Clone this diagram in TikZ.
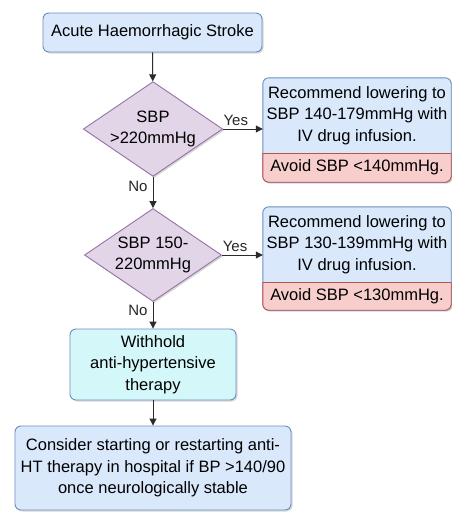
\documentclass[tikz,border=0pt]{standalone}
\usepackage{fontspec}
\setmainfont{Liberation Sans}
\usetikzlibrary{shapes.geometric,arrows.meta,shadows,backgrounds}
\definecolor{bfill}{HTML}{DAE8FC}
\definecolor{bline}{HTML}{6C8EBF}
\definecolor{pfill}{HTML}{E1D5E7}
\definecolor{pline}{HTML}{9673A6}
\definecolor{rfill}{HTML}{F8CECC}
\definecolor{rline}{HTML}{B85450}
\definecolor{cfill}{HTML}{D4F7F9}
\definecolor{arrcol}{HTML}{2B2B2B}
\begin{document}
\begin{tikzpicture}[x=1pt,y=-1pt,
  font=\fontsize{16.5}{21.5}\selectfont,
  shad/.style={drop shadow={shadow xshift=1.5pt,shadow yshift=-1.5pt,opacity=0.35,fill=black!45}},
  box/.style={draw=bline, fill=bfill, rounded corners=6pt, line width=0.9pt, align=center, inner sep=0pt, shad},
  dia/.style={diamond, draw=pline, fill=pfill, aspect=1.47, minimum width=137pt, minimum height=93pt, inner sep=0pt, align=center, line width=0.9pt, shad},
  plain/.style={align=center, inner sep=0pt, minimum width=188pt},
  arr/.style={-{Triangle[length=7pt,width=7pt]}, line width=1pt, draw=arrcol},
  lbl/.style={font=\fontsize{15}{18}\selectfont, inner sep=1pt, text=black!85}
]
\useasboundingbox (0,0) rectangle (452,512);

\node[box, minimum width=219pt, minimum height=39pt] (start) at (152.5,32.5) {Acute Haemorrhagic Stroke};
\node[dia] (d1) at (153,129) {SBP\\>220mmHg};
\node[dia] (d2) at (153,255) {SBP 150-\\220mmHg};

\node[plain, minimum height=75pt] (r1) at (357,115.5) {Recommend lowering to\\SBP 140-179mmHg with\\IV drug infusion.};
\node[plain, minimum height=29pt] (a1) at (357,167.5) {Avoid SBP <140mmHg.};
\node[plain, minimum height=75pt] (r2) at (357,244.5) {Recommend lowering to\\SBP 130-139mmHg with\\IV drug infusion.};
\node[plain, minimum height=28pt] (a2) at (357,296) {Avoid SBP <130mmHg.};

\node[box, fill=cfill, minimum width=166pt, minimum height=71pt] (wh) at (153,364.5) {Withhold\\anti-hypertensive\\therapy};
\node[box, minimum width=276pt, minimum height=84pt] (fin) at (153,468) {Consider starting or restarting anti-\\HT therapy in hospital if BP >140/90\\once neurologically stable};

\begin{pgfonlayer}{background}
  \foreach \r/\a in {r1/a1, r2/a2}{
    \draw[draw=bline, fill=bfill, rounded corners=6pt, line width=0.9pt, shad] (\r.north west) rectangle (\a.south east);
    \begin{scope}
      \clip ([xshift=-3pt]\r.south west) rectangle ([xshift=3pt,yshift=-3pt]\a.south east);
      \draw[draw=rline, fill=rfill, rounded corners=6pt, line width=0.9pt] (\r.north west) rectangle (\a.south east);
    \end{scope}
    \draw[draw=rline, line width=0.9pt] (\r.south west) -- (\r.south east);
  }
\end{pgfonlayer}

\draw[arr] (start) -- (d1);
\draw[arr] (d1.east) -- node[lbl, above, pos=0.32, yshift=2pt] {Yes} (d1.east -| r1.west);
\draw[arr] (d1) -- node[lbl, anchor=east, pos=0.3, xshift=-4pt] {No} (d2);
\draw[arr] (d2.east) -- node[lbl, above, pos=0.32, yshift=2pt] {Yes} (d2.east -| r2.west);
\draw[arr] (d2) -- node[lbl, anchor=east, pos=0.3, xshift=-4pt] {No} (wh);
\draw[arr] (wh) -- (fin);
\end{tikzpicture}
\end{document}
